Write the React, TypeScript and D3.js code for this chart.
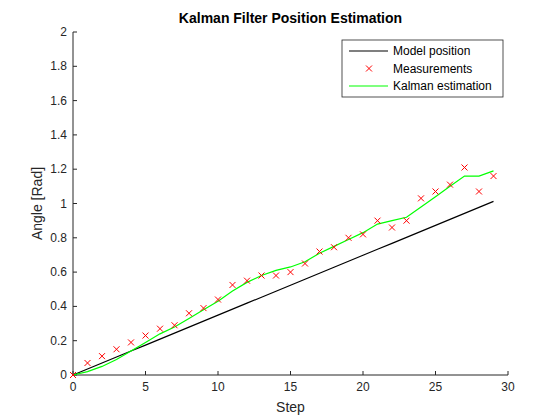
import React from "react";
import * as d3 from "d3";

const steps = d3.range(0, 30);
const model = steps.map((s) => s * 0.0349);
const measurements = [0, 0.07, 0.11, 0.15, 0.19, 0.23, 0.27, 0.29, 0.36, 0.39, 0.44, 0.525, 0.55, 0.58, 0.58, 0.6, 0.65, 0.72, 0.745, 0.8, 0.82, 0.9, 0.86, 0.9, 1.03, 1.07, 1.11, 1.21, 1.07, 1.16];
const kalman = [0, 0.02, 0.05, 0.09, 0.14, 0.19, 0.24, 0.28, 0.33, 0.38, 0.43, 0.49, 0.54, 0.58, 0.61, 0.63, 0.66, 0.71, 0.75, 0.79, 0.83, 0.88, 0.9, 0.92, 0.98, 1.04, 1.1, 1.16, 1.16, 1.19];
const xTicks = [0, 5, 10, 15, 20, 25, 30];
const yTicks = [0, 0.2, 0.4, 0.6, 0.8, 1, 1.2, 1.4, 1.6, 1.8, 2];
const legendLabels = ["Model position", "Measurements", "Kalman estimation"];

export default function App() {
  const W = 560, H = 420;
  const L = 73, R = 508, T = 32, B = 375;
  const x = d3.scaleLinear().domain([0, 30]).range([L, R]);
  const y = d3.scaleLinear().domain([0, 2]).range([B, T]);
  const line = (vals: number[]) => d3.line<number>().x((_, i) => x(i)).y((v) => y(v))(vals) || "";
  const ax = "#262626";
  const font = "'Liberation Sans', Arial, sans-serif";
  const lx = 342, ly = 40;
  return (
    <svg width={W} height={H} style={{ position: "absolute", left: 0, top: 0, background: "#fff" }} fontFamily={font}>
      <rect width={W} height={H} fill="#fff" />
      <text x={(L + R) / 2} y={23} textAnchor="middle" fontSize={14} fontWeight="bold" fill="#000">Kalman Filter Position Estimation</text>
      <line x1={L} x2={R} y1={B} y2={B} stroke={ax} />
      <line x1={L} x2={L} y1={T} y2={B} stroke={ax} />
      {xTicks.map((t) => (
        <g key={t}>
          <line x1={x(t)} x2={x(t)} y1={B} y2={B - 4} stroke={ax} />
          <text x={x(t)} y={B + 16} textAnchor="middle" fontSize={12} fill={ax}>{t}</text>
        </g>
      ))}
      {yTicks.map((t) => (
        <g key={t}>
          <line x1={L} x2={L + 4} y1={y(t)} y2={y(t)} stroke={ax} />
          <text x={L - 6} y={y(t) + 4} textAnchor="end" fontSize={12} fill={ax}>{t}</text>
        </g>
      ))}
      <text x={(L + R) / 2} y={412} textAnchor="middle" fontSize={14} fill={ax}>Step</text>
      <text transform={`translate(42,${(T + B) / 2}) rotate(-90)`} textAnchor="middle" fontSize={14} fill={ax}>Angle [Rad]</text>
      <path d={line(model)} fill="none" stroke="#000" strokeWidth={1.2} />
      <path d={line(kalman)} fill="none" stroke="#00ff00" strokeWidth={1.2} />
      {measurements.map((v, i) => (
        <g key={i} stroke="#ff0000" strokeWidth={1}>
          <line x1={x(i) - 3} x2={x(i) + 3} y1={y(v) - 3} y2={y(v) + 3} />
          <line x1={x(i) - 3} x2={x(i) + 3} y1={y(v) + 3} y2={y(v) - 3} />
        </g>
      ))}
      <rect x={lx} y={ly} width={161} height={57} fill="#fff" stroke={ax} strokeWidth={0.8} />
      {legendLabels.map((lab, i) => {
        const cy = ly + 11 + i * 17.5;
        return (
          <g key={lab}>
            {i === 0 && <line x1={lx + 7} x2={lx + 46} y1={cy} y2={cy} stroke="#000" strokeWidth={1.2} />}
            {i === 2 && <line x1={lx + 7} x2={lx + 46} y1={cy} y2={cy} stroke="#00ff00" strokeWidth={1.2} />}
            {i === 1 && (
              <g stroke="#ff0000">
                <line x1={lx + 24} x2={lx + 30} y1={cy - 3} y2={cy + 3} />
                <line x1={lx + 24} x2={lx + 30} y1={cy + 3} y2={cy - 3} />
              </g>
            )}
            <text x={lx + 51} y={cy + 4} fontSize={12} fill="#000">{lab}</text>
          </g>
        );
      })}
    </svg>
  );
}
